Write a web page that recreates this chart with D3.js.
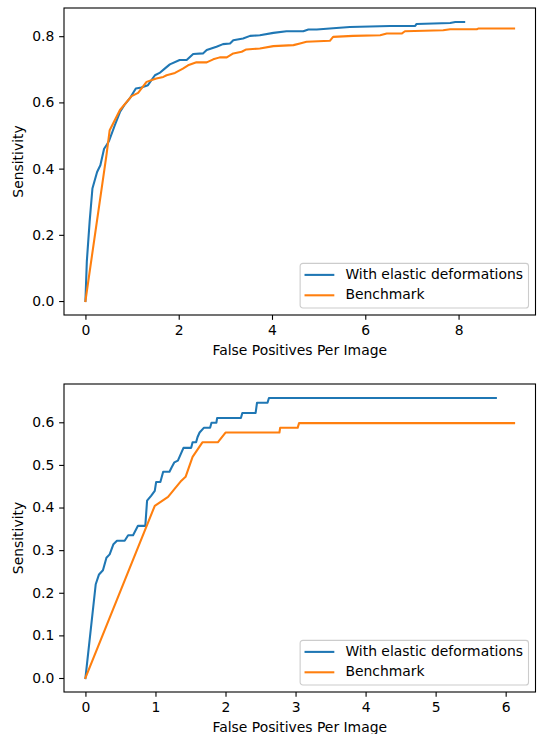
<!DOCTYPE html>
<html>
<head>
<meta charset="utf-8">
<script src="https://cdn.jsdelivr.net/npm/d3@7"></script>
<style>
    body { margin: 0; background: #fff; }
    svg { display: block; font-family: "DejaVu Sans", sans-serif; }
</style>
</head>
<body>
<div id="chart"></div>
<script>
// top panel (all images)
const topElasticFp = [0, 0.03, 0.09, 0.15, 0.25, 0.32, 0.40, 0.45, 0.51, 0.63, 0.74, 0.85, 0.95, 1.08, 1.20, 1.34, 1.49, 1.59, 1.70, 1.81, 2.02, 2.17, 2.31, 2.52, 2.60, 2.81, 2.95, 3.10, 3.17, 3.38, 3.53, 3.74, 4.03, 4.31, 4.67, 4.78, 4.96, 5.38, 5.67, 6.53, 7.07, 7.10, 7.82, 7.93, 8.12];
const topElasticSens = [0, 0.12, 0.24, 0.34, 0.39, 0.41, 0.46, 0.47, 0.485, 0.531, 0.571, 0.595, 0.612, 0.642, 0.645, 0.652, 0.682, 0.689, 0.702, 0.715, 0.728, 0.728, 0.746, 0.748, 0.758, 0.768, 0.776, 0.778, 0.788, 0.793, 0.801, 0.803, 0.810, 0.815, 0.815, 0.820, 0.820, 0.825, 0.828, 0.831, 0.831, 0.837, 0.840, 0.843, 0.843];
const topBenchFp = [0, 0.45, 0.52, 0.74, 0.99, 1.13, 1.31, 1.52, 1.67, 1.74, 1.92, 2.09, 2.20, 2.38, 2.60, 2.74, 2.88, 3.03, 3.17, 3.35, 3.45, 3.74, 4.03, 4.46, 4.60, 4.74, 5.24, 5.31, 5.74, 6.32, 6.46, 6.78, 6.85, 7.67, 7.82, 8.39, 8.42, 9.19];
const topBenchSens = [0, 0.44, 0.516, 0.577, 0.619, 0.629, 0.662, 0.672, 0.677, 0.682, 0.689, 0.702, 0.712, 0.721, 0.721, 0.730, 0.736, 0.736, 0.748, 0.753, 0.760, 0.763, 0.770, 0.773, 0.778, 0.783, 0.786, 0.798, 0.801, 0.803, 0.808, 0.808, 0.815, 0.818, 0.821, 0.821, 0.823, 0.823];
const topXTicks = [0, 2, 4, 6, 8];
const topYTicks = [0.0, 0.2, 0.4, 0.6, 0.8];

// bottom panel
const botElasticFp = [0, 0.147, 0.194, 0.25, 0.30, 0.346, 0.40, 0.45, 0.56, 0.61, 0.68, 0.75, 0.855, 0.88, 0.94, 0.99, 1.01, 1.07, 1.11, 1.20, 1.23, 1.27, 1.32, 1.40, 1.51, 1.53, 1.58, 1.60, 1.63, 1.69, 1.78, 1.80, 1.87, 1.88, 2.22, 2.24, 2.43, 2.45, 2.60, 2.62, 5.86];
const botElasticSens = [0, 0.220, 0.243, 0.253, 0.282, 0.290, 0.314, 0.322, 0.322, 0.335, 0.335, 0.357, 0.357, 0.416, 0.428, 0.439, 0.460, 0.460, 0.484, 0.484, 0.494, 0.506, 0.510, 0.540, 0.540, 0.553, 0.553, 0.565, 0.576, 0.587, 0.587, 0.599, 0.599, 0.610, 0.610, 0.622, 0.622, 0.646, 0.646, 0.657, 0.657];
const botBenchFp = [0, 0.99, 1.18, 1.27, 1.37, 1.43, 1.53, 1.67, 1.89, 2.00, 2.77, 2.78, 3.03, 3.05, 6.12];
const botBenchSens = [0, 0.404, 0.425, 0.443, 0.463, 0.472, 0.519, 0.553, 0.553, 0.576, 0.576, 0.587, 0.587, 0.598, 0.598];
const botXTicks = [0, 1, 2, 3, 4, 5, 6];
const botYTicks = [0.0, 0.1, 0.2, 0.3, 0.4, 0.5, 0.6];

const seriesNames = ["With elastic deformations", "Benchmark"];
const colors = ["#1f77b4", "#ff7f0e"];

const W = 540, H = 734;
const fontSize = 13.9;
const tickLen = 4.86;

const svg = d3.select("#chart").append("svg")
    .attr("width", W)
    .attr("height", H);

function zip(xs, ys) {
    return xs.map((x, i) => [x, ys[i]]);
}

// matplotlib style 5% margins
function padded(vals) {
    const ext = d3.extent(vals);
    const r = ext[1] - ext[0];
    return [ext[0] - 0.05 * r, ext[1] + 0.05 * r];
}

function drawPanel(box, series, xTicks, yTicks, xFmt, yFmt) {
    const g = svg.append("g");

    const allX = series.flatMap(s => s.map(d => d[0]));
    const allY = series.flatMap(s => s.map(d => d[1]));

    const x = d3.scaleLinear().domain(padded(allX)).range([box.left, box.right]);
    const y = d3.scaleLinear().domain(padded(allY)).range([box.bottom, box.top]);

    // lines
    const line = d3.line()
        .x(d => x(d[0]))
        .y(d => y(d[1]));

    series.forEach((s, i) => {
        g.append("path")
            .datum(s)
            .attr("d", line)
            .attr("fill", "none")
            .attr("stroke", colors[i])
            .attr("stroke-width", 2.08)
            .attr("stroke-linejoin", "round")
            .attr("stroke-linecap", "square");
    });

    // axes
    const xAxis = g.append("g")
        .attr("transform", `translate(0,${box.bottom})`)
        .call(d3.axisBottom(x).tickValues(xTicks).tickFormat(xFmt)
            .tickSize(tickLen).tickPadding(4.86).tickSizeOuter(0));
    const yAxis = g.append("g")
        .attr("transform", `translate(${box.left},0)`)
        .call(d3.axisLeft(y).tickValues(yTicks).tickFormat(yFmt)
            .tickSize(tickLen).tickPadding(4.86).tickSizeOuter(0));

    [xAxis, yAxis].forEach(a => {
        a.select(".domain").remove();
        a.selectAll(".tick line").attr("stroke", "#000").attr("stroke-width", 1.1);
        a.selectAll(".tick text")
            .attr("fill", "#000")
            .style("font-size", fontSize + "px")
            .style("font-family", "DejaVu Sans");
    });

    // frame
    g.append("rect")
        .attr("x", box.left)
        .attr("y", box.top)
        .attr("width", box.right - box.left)
        .attr("height", box.bottom - box.top)
        .attr("fill", "none")
        .attr("stroke", "#000")
        .attr("stroke-width", 1.1);

    // axis labels
    g.append("text")
        .attr("x", (box.left + box.right) / 2)
        .attr("y", box.bottom + 36)
        .attr("text-anchor", "middle")
        .attr("dominant-baseline", "middle")
        .style("font-size", fontSize + "px")
        .text("False Positives Per Image");

    g.append("text")
        .attr("transform", `translate(19,${(box.top + box.bottom) / 2}) rotate(-90)`)
        .attr("text-anchor", "middle")
        .attr("dominant-baseline", "middle")
        .style("font-size", fontSize + "px")
        .text("Sensitivity");

    // legend, lower right
    const lg = g.append("g");
    const frame = lg.append("rect")
        .attr("fill", "#fff")
        .attr("fill-opacity", 0.8)
        .attr("stroke", "#cccccc")
        .attr("stroke-width", 1.1)
        .attr("rx", 2.8)
        .attr("ry", 2.8);

    const labels = seriesNames.map((name, i) => {
        lg.append("line")
            .attr("x1", 4.4).attr("x2", 34.2)
            .attr("y1", 11.5 + i * 20.4).attr("y2", 11.5 + i * 20.4)
            .attr("stroke", colors[i])
            .attr("stroke-width", 2.08);
        return lg.append("text")
            .attr("x", 45.3)
            .attr("y", 11.5 + i * 20.4)
            .attr("dominant-baseline", "middle")
            .style("font-size", fontSize + "px")
            .text(name);
    });

    const textW = d3.max(labels, t => t.node().getComputedTextLength());
    const lw = 45.3 + textW + 5.5;
    const lh = 44.6;
    frame.attr("width", lw).attr("height", lh);
    lg.attr("transform", `translate(${box.right - 7 - lw},${box.bottom - 7 - lh})`);
}

drawPanel({left: 64, right: 535.5, top: 8, bottom: 315},
    [zip(topElasticFp, topElasticSens), zip(topBenchFp, topBenchSens)],
    topXTicks, topYTicks, d3.format("d"), d3.format(".1f"));

drawPanel({left: 64, right: 535.5, top: 384, bottom: 692},
    [zip(botElasticFp, botElasticSens), zip(botBenchFp, botBenchSens)],
    botXTicks, botYTicks, d3.format("d"), d3.format(".1f"));
</script>
</body>
</html>
